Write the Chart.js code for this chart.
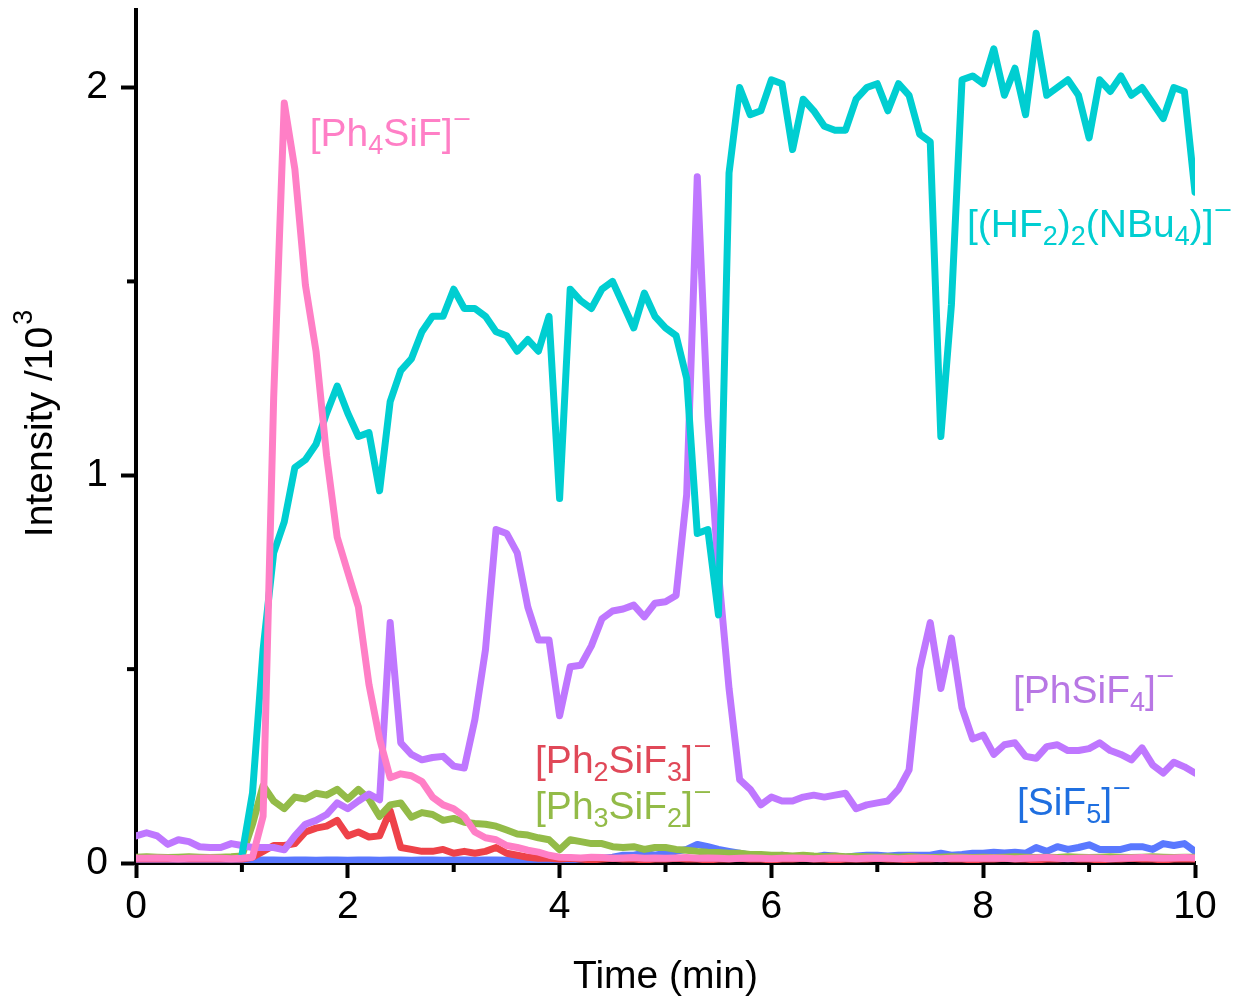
<!DOCTYPE html>
<html>
<head>
<meta charset="utf-8">
<script src="https://cdn.jsdelivr.net/npm/chart.js@4.4.1/dist/chart.umd.min.js"></script>
<style>
  body { margin: 0; background: #fff; }
  #wrap { width: 1235px; height: 997px; }
</style>
</head>
<body>
<div id="wrap"><canvas id="chart" width="1235" height="997"></canvas></div>
<script>
// sampling times (min)
const times = [
  0.0, 0.1, 0.2, 0.3, 0.4, 0.5, 0.6, 0.7, 0.8, 0.9,
  1.0, 1.1, 1.2, 1.3, 1.4, 1.5, 1.6, 1.7, 1.8, 1.9,
  2.0, 2.1, 2.2, 2.3, 2.4, 2.5, 2.6, 2.7, 2.8, 2.9,
  3.0, 3.1, 3.2, 3.3, 3.4, 3.5, 3.6, 3.7, 3.8, 3.9,
  4.0, 4.1, 4.2, 4.3, 4.4, 4.5, 4.6, 4.7, 4.8, 4.9,
  5.0, 5.1, 5.2, 5.3, 5.4, 5.5, 5.6, 5.7, 5.8, 5.9,
  6.0, 6.1, 6.2, 6.3, 6.4, 6.5, 6.6, 6.7, 6.8, 6.9,
  7.0, 7.1, 7.2, 7.3, 7.4, 7.5, 7.6, 7.7, 7.8, 7.9,
  8.0, 8.1, 8.2, 8.3, 8.4, 8.5, 8.6, 8.7, 8.8, 8.9,
  9.0, 9.1, 9.2, 9.3, 9.4, 9.5, 9.6, 9.7, 9.8, 9.9,
  10.0
];

// intensities (x10^3)
const ph4SiF = [
  0.012, 0.012, 0.013, 0.012, 0.011, 0.012, 0.012, 0.013, 0.012, 0.011,
  0.012, 0.015, 0.12, 1.20, 1.96, 1.79, 1.49, 1.32, 1.05, 0.84,
  0.75, 0.66, 0.46, 0.32, 0.22, 0.23, 0.225, 0.21, 0.17, 0.15,
  0.14, 0.12, 0.08, 0.065, 0.06, 0.045, 0.04, 0.033, 0.028, 0.02,
  0.015, 0.014, 0.013, 0.015, 0.014, 0.012, 0.013, 0.014, 0.012, 0.013,
  0.012, 0.013, 0.014, 0.012, 0.013, 0.012, 0.011, 0.012, 0.013, 0.012,
  0.011, 0.012, 0.013, 0.012, 0.011, 0.012, 0.013, 0.012, 0.011, 0.012,
  0.013, 0.012, 0.011, 0.012, 0.013, 0.012, 0.011, 0.012, 0.013, 0.012,
  0.012, 0.013, 0.012, 0.011, 0.012, 0.013, 0.014, 0.012, 0.011, 0.012,
  0.013, 0.012, 0.011, 0.012, 0.013, 0.014, 0.013, 0.012, 0.013, 0.014,
  0.013
];
const hf2NBu4 = [
  null, null, null, null, null, null, null, null, null, null,
  0.02, 0.18, 0.55, 0.80, 0.88, 1.02, 1.04, 1.08, 1.16, 1.23,
  1.16, 1.10, 1.11, 0.96, 1.19, 1.27, 1.30, 1.37, 1.41, 1.41,
  1.48, 1.43, 1.43, 1.41, 1.37, 1.36, 1.32, 1.35, 1.32, 1.41,
  0.94, 1.48, 1.45, 1.43, 1.48, 1.50, 1.44, 1.38, 1.47, 1.41,
  1.38, 1.36, 1.25, 0.85, 0.86, 0.64, 1.78, 2.00, 1.93, 1.94,
  2.02, 2.01, 1.84, 1.97, 1.94, 1.90, 1.89, 1.89, 1.97, 2.00,
  2.01, 1.94, 2.01, 1.98, 1.88, 1.86, 1.10, 1.44, 2.02, 2.03,
  2.01, 2.10, 1.98, 2.05, 1.93, 2.14, 1.98, 2.00, 2.02, 1.98,
  1.87, 2.02, 1.99, 2.03, 1.98, 2.00, 1.96, 1.92, 2.00, 1.99,
  1.73
];
const phSiF4 = [
  0.07, 0.078, 0.07, 0.048, 0.06, 0.055, 0.042, 0.04, 0.04, 0.05,
  0.045, 0.04, 0.04, 0.04, 0.034, 0.07, 0.10, 0.11, 0.125, 0.155,
  0.14, 0.16, 0.178, 0.163, 0.62, 0.31, 0.28, 0.266, 0.272, 0.275,
  0.25, 0.245, 0.37, 0.55, 0.86, 0.85, 0.80, 0.66, 0.575, 0.575,
  0.38, 0.506, 0.51, 0.56, 0.63, 0.65, 0.655, 0.665, 0.635, 0.67,
  0.674, 0.69, 0.95, 1.77, 1.15, 0.75, 0.45, 0.215, 0.19, 0.15,
  0.17, 0.16, 0.16, 0.17, 0.175, 0.17, 0.175, 0.18, 0.14, 0.15,
  0.155, 0.16, 0.19, 0.24, 0.50, 0.62, 0.45, 0.58, 0.40, 0.32,
  0.33, 0.28, 0.305, 0.31, 0.275, 0.27, 0.30, 0.305, 0.29, 0.29,
  0.295, 0.31, 0.29, 0.28, 0.266, 0.297, 0.253, 0.232, 0.26, 0.248,
  0.232
];
const ph3SiF2 = [
  0.015, 0.016, 0.015, 0.014, 0.015, 0.016, 0.015, 0.014, 0.015, 0.016,
  0.018, 0.10, 0.20, 0.16, 0.14, 0.17, 0.165, 0.18, 0.175, 0.19,
  0.165, 0.19, 0.165, 0.12, 0.15, 0.155, 0.118, 0.13, 0.125, 0.11,
  0.115, 0.105, 0.102, 0.10, 0.095, 0.085, 0.075, 0.072, 0.065, 0.06,
  0.034, 0.06, 0.055, 0.05, 0.05, 0.042, 0.04, 0.042, 0.035, 0.04,
  0.04, 0.035, 0.033, 0.03, 0.028, 0.027, 0.025, 0.025, 0.022, 0.022,
  0.02, 0.02, 0.018, 0.02, 0.018, 0.017, 0.018, 0.016, 0.017, 0.016,
  0.015, 0.016, 0.015, 0.017, 0.015, 0.014, 0.015, 0.016, 0.015, 0.014,
  0.015, 0.014, 0.015, 0.016, 0.015, 0.014, 0.015, 0.014, 0.016, 0.015,
  0.014, 0.015, 0.016, 0.015, 0.014, 0.015, 0.016, 0.015, 0.014, 0.015,
  0.015
];
const ph2SiF3 = [
  0.01, 0.01, 0.01, 0.01, 0.01, 0.01, 0.01, 0.01, 0.01, 0.01,
  0.01, 0.015, 0.03, 0.045, 0.045, 0.05, 0.08, 0.09, 0.095, 0.11,
  0.07, 0.08, 0.067, 0.07, 0.135, 0.04, 0.035, 0.03, 0.03, 0.035,
  0.025, 0.03, 0.025, 0.03, 0.04, 0.025, 0.02, 0.015, 0.012, 0.012,
  0.01, 0.012, 0.01, 0.008, 0.01, 0.012, 0.01, 0.01, 0.008, 0.01,
  0.01, 0.012, 0.01, 0.01, 0.008, 0.01, 0.01, 0.012, 0.01, 0.01,
  0.008, 0.01, 0.01, 0.012, 0.01, 0.01, 0.008, 0.01, 0.01, 0.01,
  0.012, 0.01, 0.01, 0.008, 0.01, 0.01, 0.012, 0.01, 0.01, 0.008,
  0.01, 0.01, 0.012, 0.01, 0.01, 0.008, 0.01, 0.01, 0.012, 0.01,
  0.01, 0.008, 0.01, 0.01, 0.012, 0.01, 0.01, 0.008, 0.01, 0.01,
  0.01
];
const siF5 = [
  0.008, 0.008, 0.007, 0.008, 0.008, 0.007, 0.008, 0.008, 0.007, 0.008,
  0.008, 0.007, 0.008, 0.008, 0.007, 0.008, 0.008, 0.007, 0.008, 0.008,
  0.007, 0.008, 0.008, 0.007, 0.008, 0.008, 0.007, 0.008, 0.008, 0.007,
  0.008, 0.008, 0.007, 0.008, 0.008, 0.007, 0.008, 0.008, 0.007, 0.008,
  0.008, 0.008, 0.01, 0.01, 0.012, 0.015, 0.02, 0.02, 0.025, 0.02,
  0.025, 0.03, 0.035, 0.048, 0.042, 0.035, 0.03, 0.025, 0.02, 0.018,
  0.015, 0.02, 0.015, 0.018, 0.015, 0.02, 0.018, 0.015, 0.018, 0.02,
  0.02, 0.018, 0.02, 0.02, 0.02, 0.02, 0.025, 0.02, 0.022, 0.025,
  0.025, 0.028, 0.026, 0.028, 0.025, 0.04, 0.03, 0.042, 0.035, 0.04,
  0.047, 0.035, 0.035, 0.035, 0.042, 0.042, 0.035, 0.05, 0.045, 0.05,
  0.03
];

const xTicks = [0, 2, 4, 6, 8, 10];
const xMinorTicks = [1, 3, 5, 7, 9];
const yTicks = [0, 1, 2];
const yMinorTicks = [0.5, 1.5];

const FONT = "'Liberation Sans', Arial, sans-serif";

// curve labels: text pieces (0 = normal, -1 = subscript, 1 = superscript)
const curveLabels = [
  { parts: [['[Ph', 0], ['4', -1], ['SiF]', 0], ['\u2013', 1]], at: [1.64, 1.848], color: '#FF7FC6' },
  { parts: [['[(HF', 0], ['2', -1], [')', 0], ['2', -1], ['(NBu', 0], ['4', -1], [')]', 0], ['\u2013', 1]], at: [7.847, 1.615], color: '#00CED1' },
  { parts: [['[PhSiF', 0], ['4', -1], [']', 0], ['\u2013', 1]], at: [8.281, 0.413], color: '#B877E4' },
  { parts: [['[Ph', 0], ['2', -1], ['SiF', 0], ['3', -1], [']', 0], ['\u2013', 1]], at: [3.768, 0.232], color: '#E04858' },
  { parts: [['[Ph', 0], ['3', -1], ['SiF', 0], ['2', -1], [']', 0], ['\u2013', 1]], at: [3.768, 0.114], color: '#93BB48' },
  { parts: [['[SiF', 0], ['5', -1], [']', 0], ['\u2013', 1]], at: [8.319, 0.124], color: '#1F6FE0' }
];

function toPoints(vals) {
  return times.map((t, i) => ({ x: t, y: vals[i] }));
}

function line(label, vals, color) {
  return {
    label: label,
    data: toPoints(vals),
    borderColor: color,
    borderWidth: 7,
    pointRadius: 0,
    tension: 0,
    borderJoinStyle: 'round',
    borderCapStyle: 'round',
    fill: false
  };
}

const minorTicks = {
  id: 'minorTicks',
  afterDraw(chart) {
    const { ctx, scales: { x, y } } = chart;
    ctx.save();
    ctx.strokeStyle = '#000';
    ctx.lineWidth = 4;
    xMinorTicks.forEach(v => {
      const px = x.getPixelForValue(v);
      ctx.beginPath();
      ctx.moveTo(px, y.bottom);
      ctx.lineTo(px, y.bottom + 9);
      ctx.stroke();
    });
    yMinorTicks.forEach(v => {
      const py = y.getPixelForValue(v);
      ctx.beginPath();
      ctx.moveTo(x.left, py);
      ctx.lineTo(x.left - 9, py);
      ctx.stroke();
    });
    ctx.restore();
  }
};

// rich text helper (normal / subscript / superscript pieces)
function drawParts(ctx, parts, px, base) {
  parts.forEach(([txt, kind]) => {
    let dy = 0;
    if (kind === 0) {
      ctx.font = '39px ' + FONT;
    } else if (kind === -1) {
      ctx.font = '27px ' + FONT;
      dy = 8;
    } else {
      ctx.font = '27px ' + FONT;
      dy = -20;
      px += 2;
    }
    ctx.fillText(txt, px, base + dy);
    px += ctx.measureText(txt).width;
  });
}

function partsWidth(ctx, parts) {
  let w = 0;
  parts.forEach(([txt, kind]) => {
    ctx.font = (kind === 0 ? '39px ' : '27px ') + FONT;
    w += ctx.measureText(txt).width + (kind === 1 ? 2 : 0);
  });
  return w;
}

const curveText = {
  id: 'curveText',
  afterDatasetsDraw(chart) {
    const { ctx, scales: { x, y } } = chart;
    ctx.save();
    ctx.textBaseline = 'alphabetic';
    ctx.textAlign = 'left';
    curveLabels.forEach(lab => {
      ctx.fillStyle = lab.color;
      drawParts(ctx, lab.parts, x.getPixelForValue(lab.at[0]), y.getPixelForValue(lab.at[1]));
    });
    ctx.restore();
  }
};

// y axis title with a real superscript
const yTitle = {
  id: 'yTitle',
  afterDraw(chart) {
    const { ctx, chartArea } = chart;
    const parts = [['Intensity /10', 0], ['3', 1]];
    ctx.save();
    ctx.fillStyle = '#000';
    ctx.textBaseline = 'alphabetic';
    ctx.textAlign = 'left';
    const w = partsWidth(ctx, parts);
    const cy = (chartArea.top + chartArea.bottom) / 2 - 13;
    ctx.translate(52, cy);
    ctx.rotate(-Math.PI / 2);
    drawParts(ctx, parts, -w / 2, 0);
    ctx.restore();
  }
};

new Chart(document.getElementById('chart'), {
  type: 'line',
  data: {
    datasets: [
      line('[Ph4SiF]-', ph4SiF, '#FF7FC6'),
      line('[(HF2)2(NBu4)]-', hf2NBu4, '#00CED1'),
      line('[PhSiF4]-', phSiF4, '#BF77FF'),
      line('[Ph3SiF2]-', ph3SiF2, '#93BB48'),
      line('[Ph2SiF3]-', ph2SiF3, '#EE4249'),
      line('[SiF5]-', siF5, '#5A78FF')
    ]
  },
  options: {
    responsive: false,
    animation: false,
    layout: { padding: { top: 10, right: 40, left: 0, bottom: 0 } },
    plugins: {
      legend: { display: false },
      tooltip: { enabled: false }
    },
    scales: {
      x: {
        type: 'linear',
        min: 0,
        max: 10,
        afterBuildTicks: s => { s.ticks = xTicks.map(v => ({ value: v })); },
        afterFit: s => { s.height = 134; s.paddingLeft = 0; s.paddingRight = 0; },
        border: { display: true, color: '#000', width: 4 },
        grid: { display: true, drawOnChartArea: false, drawTicks: true, tickLength: 15, tickWidth: 4, tickColor: '#000', color: '#000' },
        ticks: { color: '#000', font: { size: 39, family: FONT }, padding: 6, maxRotation: 0 },
        title: { display: true, text: 'Time (min)', color: '#000', font: { size: 39, family: FONT, lineHeight: 1 }, padding: 0 }
      },
      y: {
        type: 'linear',
        min: 0,
        max: 2.2,
        afterBuildTicks: s => { s.ticks = yTicks.map(v => ({ value: v })); },
        afterFit: s => { s.width = 136; s.paddingTop = 0; s.paddingBottom = 0; },
        border: { display: true, color: '#000', width: 4 },
        grid: { display: true, drawOnChartArea: false, drawTicks: true, tickLength: 15, tickWidth: 4, tickColor: '#000', color: '#000' },
        ticks: { color: '#000', font: { size: 39, family: FONT }, padding: 13 },
        title: { display: false }
      }
    }
  },
  plugins: [minorTicks, curveText, yTitle]
});
</script>
</body>
</html>
